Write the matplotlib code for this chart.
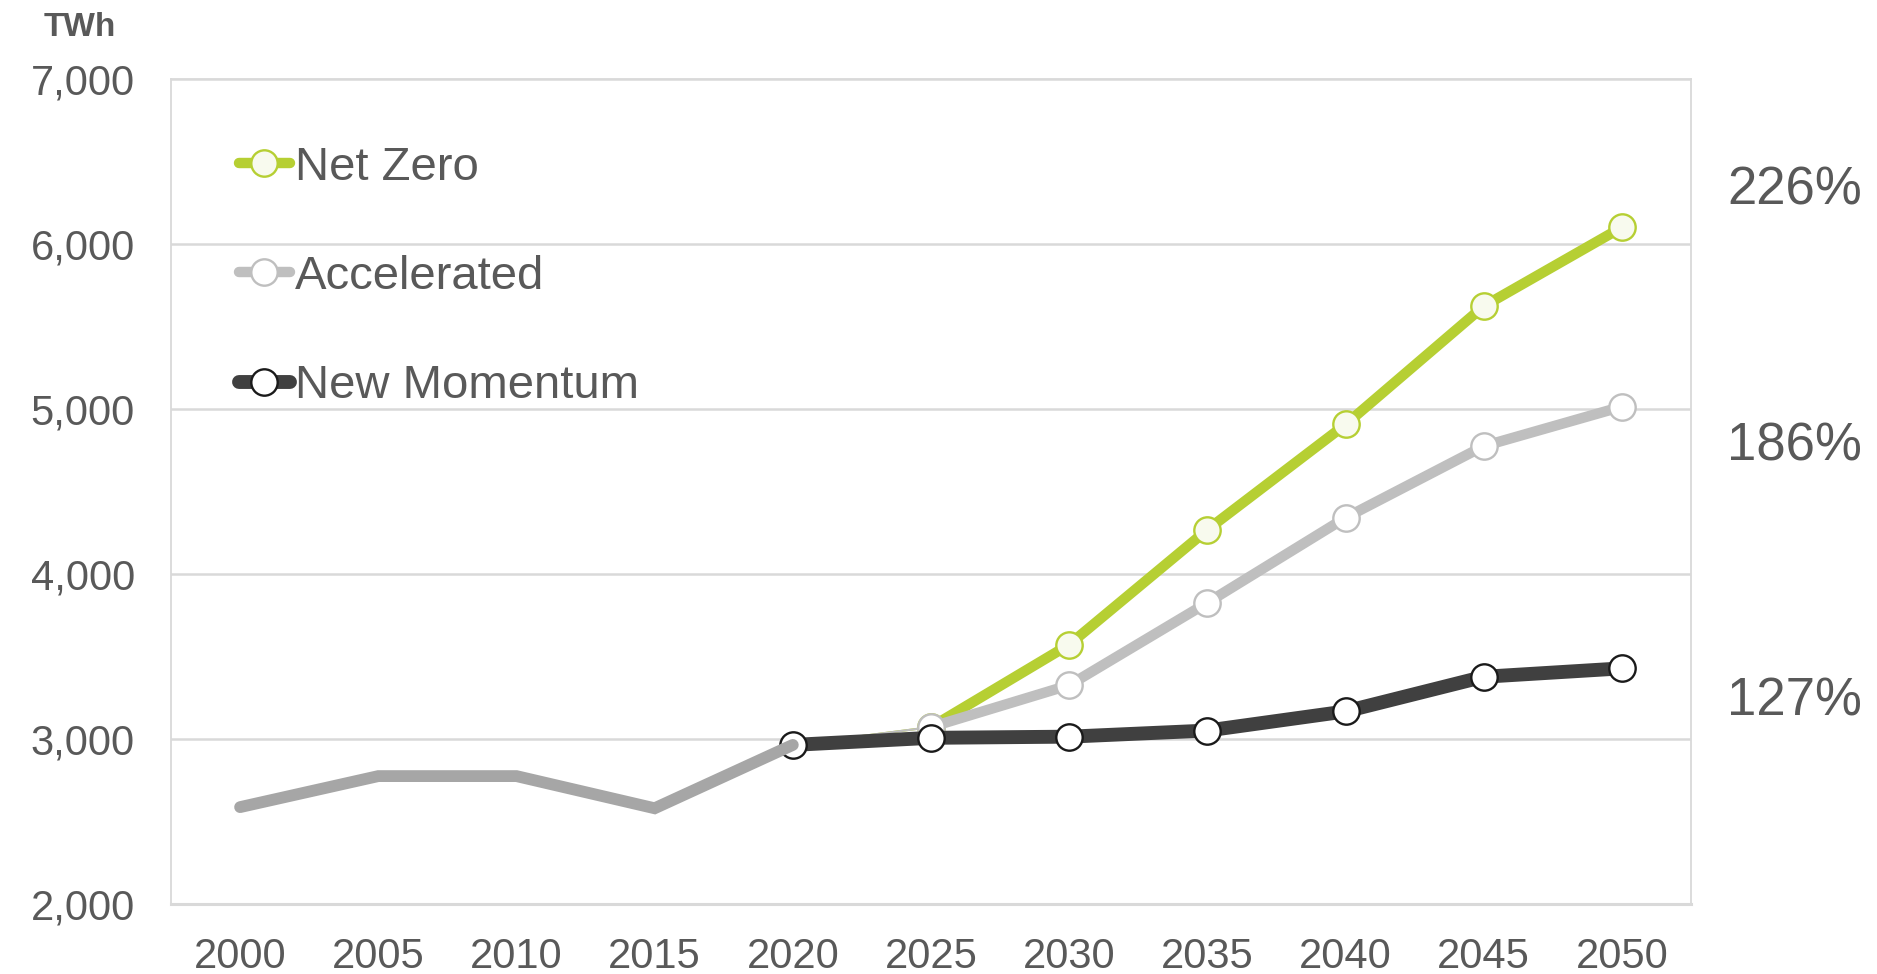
import matplotlib
matplotlib.use("Agg")
import matplotlib.pyplot as plt
import numpy as np
from matplotlib.lines import Line2D

years = ["2000", "2005", "2010", "2015", "2020", "2025", "2030", "2035", "2040", "2045", "2050"]
history_years = ["2000", "2005", "2010", "2015", "2020"]
history = [2587, 2775, 2775, 2580, 2964]
scen_years = ["2020", "2025", "2030", "2035", "2040", "2045", "2050"]
net_zero = [2964, 3072, 3572, 4268, 4906, 5623, 6101]
accelerated = [2964, 3072, 3326, 3826, 4341, 4775, 5014]
new_momentum = [2964, 3007, 3014, 3051, 3167, 3377, 3428]
pct_labels = ["226%", "186%", "127%"]
pct_y = [6325, 4775, 3230]
yticks = [2000, 3000, 4000, 5000, 6000, 7000]

GREEN = "#B6CF33"
LGREY = "#BFBFBF"
DARK = "#404040"
HIST = "#A6A6A6"
TXT = "#595959"
GRID = "#D9D9D9"

plt.rcParams['font.family'] = ['Liberation Sans', 'DejaVu Sans']

fig = plt.figure(figsize=(18.77, 9.74), dpi=100)
ax = fig.add_axes([0.0911, 0.0719, 0.8098, 0.847])

xi = {y: i for i, y in enumerate(years)}
hx = [xi[y] for y in history_years]
sx = [xi[y] for y in scen_years]

ms = 19
mew = 1.7
LW_S = 7.5
LW_NM = 10
LW_H = 8.5

# Net Zero
ax.plot(sx[:2], net_zero[:2], color=GREEN, lw=1.5, zorder=3)
ax.plot(sx[1:], net_zero[1:], color=GREEN, lw=LW_S, solid_capstyle='round', zorder=3)
ax.plot(sx[1:], net_zero[1:], ls='none', marker='o', ms=ms, mfc='#F8FAEE', mec=GREEN, mew=mew, zorder=3.1)
# Accelerated
ax.plot(sx[:2], accelerated[:2], color=LGREY, lw=1.5, zorder=4)
ax.plot(sx[1:], accelerated[1:], color=LGREY, lw=LW_S, solid_capstyle='round', zorder=4)
ax.plot(sx[1:], accelerated[1:], ls='none', marker='o', ms=ms, mfc='white', mec=LGREY, mew=mew, zorder=4.1)
# New Momentum
ax.plot(sx, new_momentum, color=DARK, lw=LW_NM, solid_capstyle='round', zorder=5)
ax.plot(sx, new_momentum, ls='none', marker='o', ms=ms, mfc='white', mec='#1A1A1A', mew=mew, zorder=5.1)
# History
ax.plot(hx, history, color=HIST, lw=LW_H, solid_capstyle='round', solid_joinstyle='miter', zorder=6)

ax.set_xlim(-0.5, len(years) - 0.5)
ax.set_ylim(2000, 7000)
ax.set_xticks(range(len(years)))
ax.set_xticklabels(years)
ax.set_yticks(yticks)
ax.set_yticklabels([f"{v:,}" for v in yticks])
ax.tick_params(axis='both', length=0, labelsize=30, colors=TXT)
ax.tick_params(axis='x', pad=24)
ax.tick_params(axis='y', pad=26)
ax.grid(axis='y', color=GRID, lw=1.8, zorder=0)
ax.set_axisbelow(True)
for s in ['left', 'right', 'top']:
    ax.spines[s].set_color(GRID)
    ax.spines[s].set_linewidth(1.3)
ax.spines['bottom'].set_color(GRID)
ax.spines['bottom'].set_linewidth(2.2)

for lab, yv in zip(pct_labels, pct_y):
    ax.text(1.0 + 0.024, yv, lab, transform=ax.get_yaxis_transform(), ha='left', va='center',
            fontsize=38, color=TXT)

fig.text(116 / 1877, 1 - 27 / 974, "TWh", ha='right', va='center', fontsize=24,
         fontweight='bold', color=TXT)

handles = [
    Line2D([], [], color=GREEN, lw=LW_S, solid_capstyle='round', marker='o', ms=ms, mfc='#F8FAEE', mec=GREEN, mew=mew),
    Line2D([], [], color=LGREY, lw=LW_S, solid_capstyle='round', marker='o', ms=ms, mfc='white', mec=LGREY, mew=mew),
    Line2D([], [], color=DARK, lw=LW_NM, solid_capstyle='round', marker='o', ms=ms, mfc='white', mec='#1A1A1A', mew=mew),
]
leg = ax.legend(handles, ["Net Zero", "Accelerated", "New Momentum"], loc='upper left',
                bbox_to_anchor=(0.032, 0.942), frameon=False, fontsize=34, handlelength=1.1,
                handletextpad=0.1, labelspacing=1.38, borderaxespad=0)
for t in leg.get_texts():
    t.set_color(TXT)

fig.savefig("out.png", dpi=100, facecolor='white')
